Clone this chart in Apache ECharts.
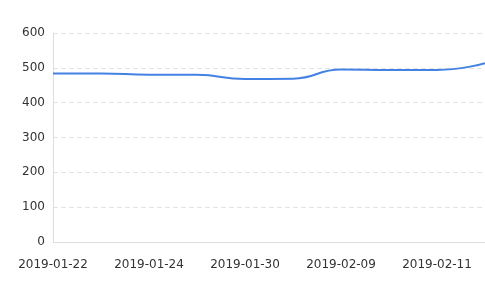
<!DOCTYPE html>
<html>
<head>
<meta charset="utf-8">
<script src="https://cdn.jsdelivr.net/npm/echarts@6/dist/echarts.min.js"></script>
<style>html,body{margin:0;padding:0;background:#fff;}#c{width:485px;height:289px;}</style>
</head>
<body>
<div id="c"></div>
<script>
var categories = ['2019-01-22','2019-01-23','2019-01-24','2019-01-28','2019-01-30','2019-02-01','2019-02-09','2019-02-10','2019-02-11','2019-02-12'];
var values = [484, 484, 480, 480, 468, 469, 495, 494, 494, 513];
var yTicks = [0, 100, 200, 300, 400, 500, 600];

var chart = echarts.init(document.getElementById('c'));
chart.setOption({
  animation: false,
  grid: {left: 53, right: 0, top: 33, bottom: 47, containLabel: false},
  xAxis: {
    type: 'category',
    data: categories,
    boundaryGap: false,
    axisLine: {show: true, lineStyle: {color: '#dddddd'}},
    axisTick: {show: false},
    axisLabel: {interval: 1, color: '#333', fontSize: 12, margin: 17, fontFamily: 'DejaVu Sans'}
  },
  yAxis: {
    type: 'value',
    min: yTicks[0],
    max: yTicks[yTicks.length - 1],
    interval: 100,
    axisLine: {show: true, lineStyle: {color: '#dddddd'}},
    axisTick: {show: false},
    axisLabel: {color: '#333', fontSize: 12, margin: 8, fontFamily: 'DejaVu Sans'},
    splitLine: {show: true, lineStyle: {color: '#e3e3e3', type: [5, 3]}}
  },
  series: [{
    type: 'line',
    data: values,
    smooth: true,
    showSymbol: false,
    symbol: 'none',
    lineStyle: {color: '#4382e3', width: 2},
    itemStyle: {color: '#4382e3'}
  }]
});
</script>
</body>
</html>
